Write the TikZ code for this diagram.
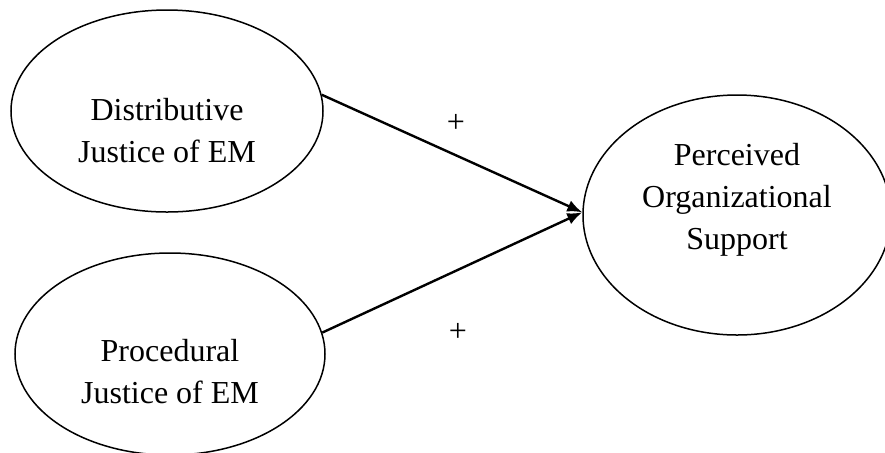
\documentclass[tikz,border=0pt]{standalone}
\usepackage{fontspec}
\setmainfont{Liberation Serif}
\usepackage{tikz}
\usetikzlibrary{positioning, arrows.meta, shapes.geometric}

\tikzset{construct/.style={draw=black, line width=0.75pt, ellipse, inner sep=0pt},
         label text/.style={align=center, font=\fontsize{16}{21}\selectfont},
         path/.style={draw=black, line width=1.2pt, -{Latex[length=7.5pt,width=6pt]}},
         sign/.style={font=\fontsize{16}{21}\selectfont}}

\begin{document}
\begin{tikzpicture}[x=0.5pt, y=-0.5pt]
            \useasboundingbox (0,0) rectangle (885,452);   % fix the page size
            \node [construct, minimum width=156pt, minimum height=101pt] (dist) at (167,111) {};   % first cause
            \node [construct, minimum width=155pt, minimum height=101pt] (proc) at (170,354) {};   % second cause
            \node [construct, minimum width=154pt, minimum height=120pt] (pos) at (737,215) {};    % outcome
            \node [label text] (distText) at (167,131) {Distributive\\Justice of EM};
            \node [label text] (procText) at (170,372) {Procedural\\Justice of EM};
            \node [label text] (posText) at (737,200) {Perceived\\Organizational\\Support};
            \draw [path] (dist.6) -- (pos.179);   % first path
            \draw [path] (proc.8) -- (pos.179);   % second path
            \node [sign] (plusA) at (456,123) {+};   % sign of first path
            \node [sign] (plusB) at (458,332) {+};   % sign of second path
    \end{tikzpicture}
\end{document}
